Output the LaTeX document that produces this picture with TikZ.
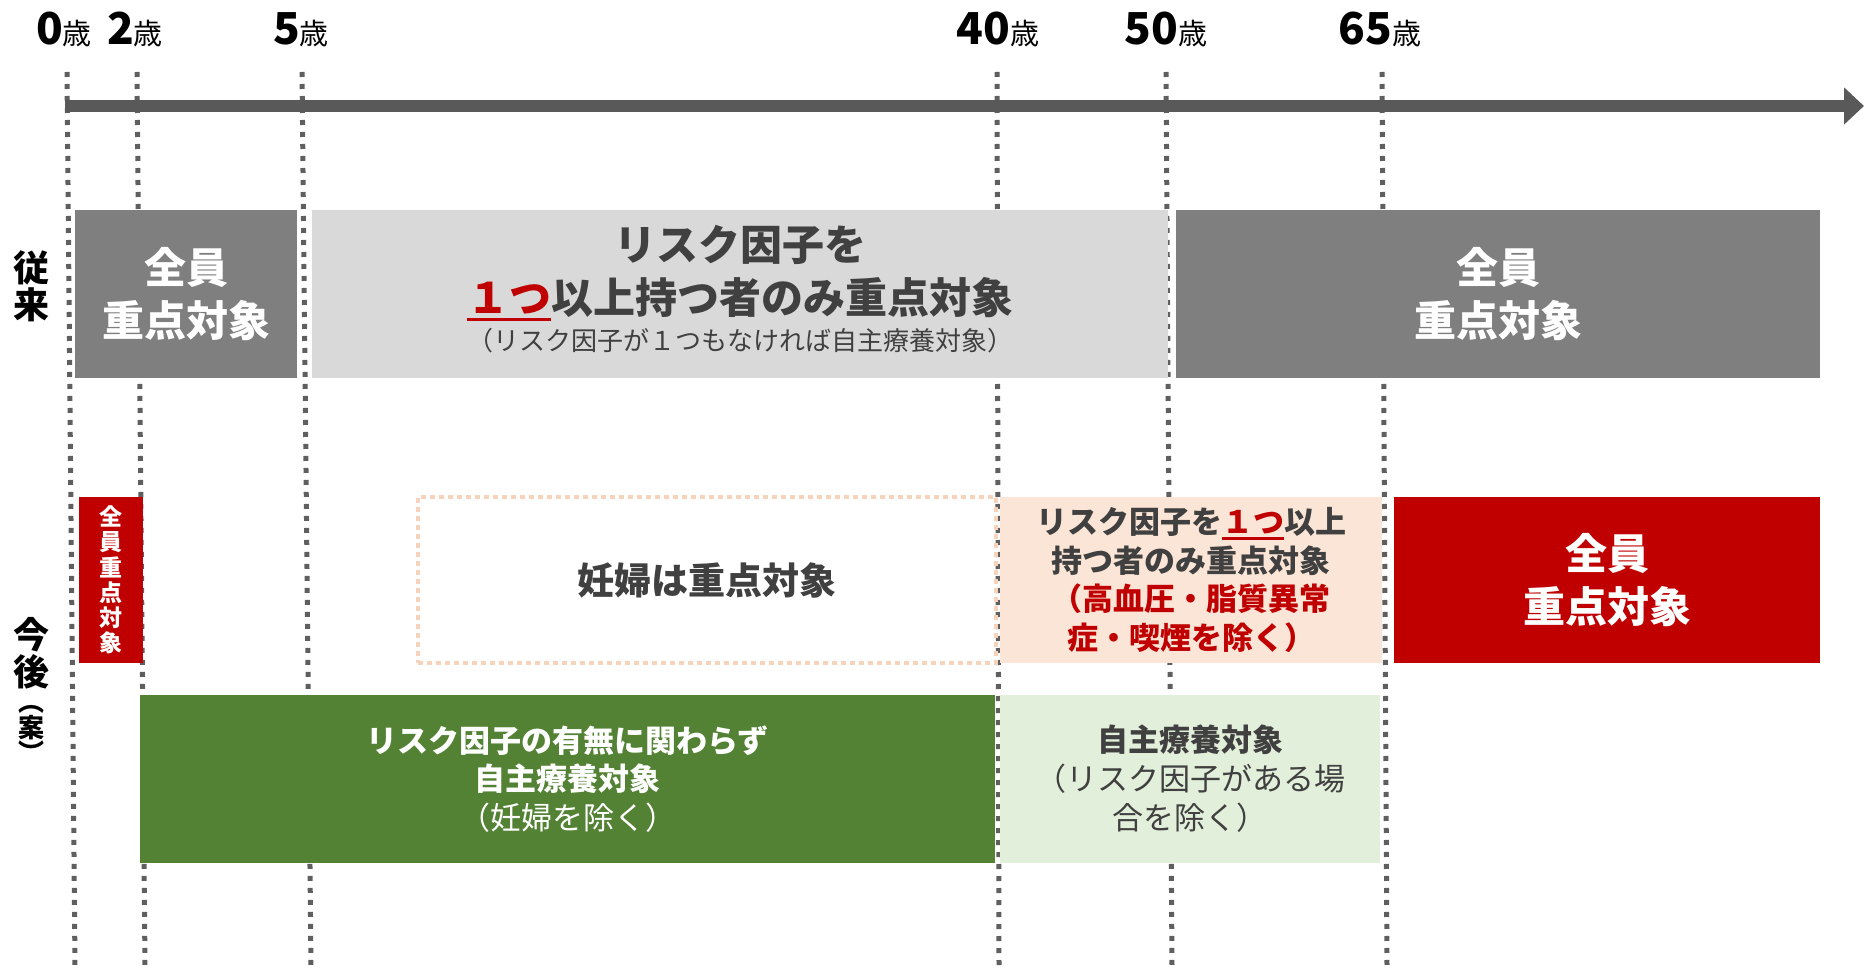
\documentclass[tikz,border=0pt]{standalone}
\usepackage{fontspec}
\setmainfont{Noto Sans CJK JP}
\usetikzlibrary{arrows.meta}
\definecolor{dgray}{HTML}{7F7F7F}
\definecolor{lgray}{HTML}{D9D9D9}
\definecolor{jred}{HTML}{C00000}
\definecolor{peach}{HTML}{FBE5D6}
\definecolor{peachb}{HTML}{F8D3BC}
\definecolor{dgreen}{HTML}{548235}
\definecolor{lgreen}{HTML}{E2EFDA}
\definecolor{axisg}{HTML}{595959}
\definecolor{lineg}{HTML}{5F5F5F}
\definecolor{tgray}{HTML}{404040}
\newcommand\redul[1]{{\color{jred}\setbox0\hbox{#1}\rlap{\rule[-7pt]{\wd0}{3pt}}\box0}}
\tikzset{
 box/.style={anchor=north west, inner sep=0pt, outer sep=0pt, align=center},
 big/.style={font=\fontsize{42}{53}\selectfont\bfseries},
 vline/.style={draw=lineg, line width=5pt, dash pattern=on 5pt off 7pt},
 tick/.style={anchor=base, inner sep=0pt, text=black},
 rowlab/.style={inner sep=0pt, align=center, text=black},
}
\newcommand\tk[1]{{\fontsize{44}{44}\selectfont\bfseries #1}{\fontsize{29}{29}\selectfont 歳}}
\begin{document}
\begin{tikzpicture}[x=1pt,y=-1pt]
\useasboundingbox (0,0) rectangle (1864,968);
% vertical dotted lines
\coordinate (t0) at (67,72);   \coordinate (b0) at (75,966);
\coordinate (t2) at (137,72);  \coordinate (b2) at (145,966);
\coordinate (t5) at (302,72);  \coordinate (b5) at (311,966);
\coordinate (t40) at (997,72); \coordinate (b40) at (999,966);
\coordinate (t50) at (1166,72);\coordinate (b50) at (1172,966);
\coordinate (t65) at (1382,72);\coordinate (b65) at (1387,966);
\foreach \a in {0,2,5,40,50,65}{\draw[vline] (t\a) -- (b\a);}
% axis
\coordinate (axs) at (65,106);
\coordinate (axe) at (1864,106);
\draw[draw=axisg, line width=12pt, -{Triangle[length=20pt,width=36pt]}] (axs) -- (axe);
% tick labels
\node[tick] (n0) at (64,45) {\tk{0}};
\node[tick] (n2) at (135,45) {\tk{2}};
\node[tick] (n5) at (301,45) {\tk{5}};
\node[tick] (n40) at (998,45) {\tk{40}};
\node[tick] (n50) at (1166,45) {\tk{50}};
\node[tick] (n65) at (1380,45) {\tk{65}};
% row labels
\node[rowlab, font=\fontsize{36}{37}\selectfont\bfseries] (L1) at (31,286) {従\\来};
\node[rowlab, font=\fontsize{36}{37}\selectfont\bfseries] (L2) at (31,653) {今\\後};
\node[rowlab, font=\fontsize{26}{21}\selectfont\bfseries] (L3) at (31,734) {︵\\案\\︶};
% row 1
\node[box, fill=dgray, text=white, big, minimum width=222pt, minimum height=168pt] (A) at (75,210) {全員\\重点対象};
\node[box, fill=lgray, minimum width=856pt, minimum height=168pt] (B) at (312,210) {};
\node[big, text=tgray, align=center, inner sep=0pt] (Bt) at (740,273) {リスク因子を\\\redul{１つ}以上持つ者のみ重点対象};
\node[text=tgray, font=\fontsize{26}{30}\selectfont, inner sep=0pt] (Bs) at (740,341) {（リスク因子が１つもなければ自主療養対象）};
\node[box, fill=dgray, text=white, big, minimum width=644pt, minimum height=168pt] (C) at (1176,210) {全員\\重点対象};
% row 2
\node[box, fill=jred, text=white, font=\fontsize{23}{25.3}\selectfont\bfseries, minimum width=64pt, minimum height=166pt] (R1) at (79,497) {全\\員\\重\\点\\対\\象};
\node[box, draw=peachb, line width=4pt, dash pattern=on 5pt off 4pt, text=tgray, font=\fontsize{37}{40}\selectfont\bfseries, minimum width=578pt, minimum height=166pt] (D) at (418,497) {妊婦は重点対象};
\node[box, fill=peach, text=tgray, font=\fontsize{31}{38.7}\selectfont\bfseries, minimum width=382pt, minimum height=166pt] (P) at (1000,497) {リスク因子を\redul{１つ}以上\\持つ者のみ重点対象\\{\color{jred}（高血圧・脂質異常}\\{\color{jred}症・喫煙を除く）}};
\node[box, fill=jred, text=white, big, minimum width=426pt, minimum height=166pt] (R2) at (1394,497) {全員\\重点対象};
% row 3
\node[box, fill=dgreen, text=white, font=\fontsize{31}{38.5}\selectfont, minimum width=855pt, minimum height=168pt] (G) at (140,695) {\bfseries リスク因子の有無に関わらず\\\bfseries 自主療養対象\\（妊婦を除く）};
\node[box, fill=lgreen, text=tgray, font=\fontsize{31}{39}\selectfont, minimum width=380pt, minimum height=168pt] (LG) at (1000,695) {\bfseries 自主療養対象\\（リスク因子がある場\\合を除く）};
\end{tikzpicture}
\end{document}
